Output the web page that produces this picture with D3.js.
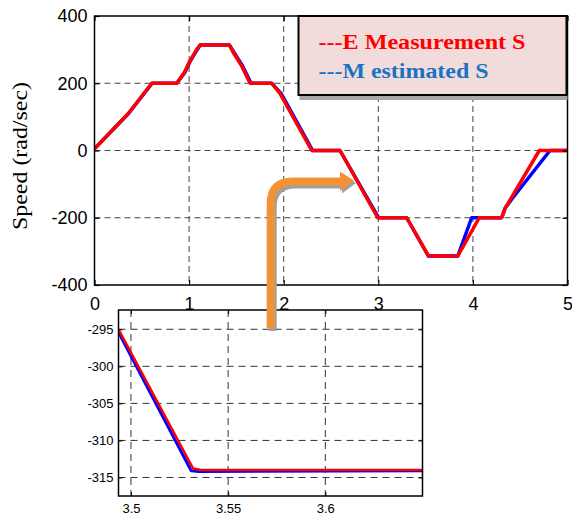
<!DOCTYPE html>
<html>
<head>
<meta charset="utf-8">
<script src="https://cdn.jsdelivr.net/npm/d3@7/dist/d3.min.js"></script>
<style>
  html, body { margin: 0; padding: 0; background: #ffffff; }
  svg { display: block; }
</style>
</head>
<body>
<svg id="chart" width="572" height="517"></svg>
<script>
// ---------- data ----------
const timeMeasured = [0, 0.357, 0.605, 0.87, 0.95, 1.0, 1.08, 1.115, 1.425, 1.47, 1.55, 1.645, 1.873, 1.96, 2.296, 2.595, 2.994, 3.30, 3.532, 3.84, 4.067, 4.304, 4.34, 4.702, 5.0];
const speedMeasured = [5, 110, 200, 200, 232, 262, 300, 314, 314, 290, 254, 200, 200, 170, 0, 0, -200, -200, -314, -314, -200, -200, -172, 0, 0];
const timeEstimated = [0, 0.36, 0.61, 0.87, 0.955, 1.005, 1.085, 1.12, 1.425, 1.478, 1.56, 1.655, 1.873, 1.972, 2.306, 2.595, 3.004, 3.30, 3.53, 3.84, 3.987, 4.304, 4.34, 4.41, 4.815, 5.0];
const speedEstimated = [5, 110, 200, 200, 232, 262, 300, 314, 314, 290, 254, 200, 200, 170, 0, 0, -200, -200, -314, -314, -200, -200, -172, -145, 0, 0];

const xTicks = [0, 1, 2, 3, 4, 5];
const yTicks = [-400, -200, 0, 200, 400];

// zoomed inset
const insetTimeMeasured = [3.4936, 3.532, 3.536, 3.65];
const insetSpeedMeasured = [-295, -313.8, -314, -314];
const insetTimeEstimated = [3.4936, 3.531, 3.535, 3.65];
const insetSpeedEstimated = [-295.4, -314.1, -314.2, -314.1];
const insetXTicks = [3.5, 3.55, 3.6];
const insetYTicks = [-295, -300, -305, -310, -315];

const legendLabels = ["---E Measurement S", "---M estimated S"];
const yTitle = "Speed (rad/sec)";

// ---------- drawing ----------
const svg = d3.select("#chart");
const RED = "#ff0000", BLUE = "#0000ff";
const plainNum = d => String(+d.toFixed(2));

// main plot
const M = { left: 94.5, right: 567.5, top: 16, bottom: 285 };
const x = d3.scaleLinear().domain([0, 5]).range([M.left, M.right]);
const y = d3.scaleLinear().domain([-400, 400]).range([M.bottom, M.top]);

const main = svg.append("g");
main.append("defs").append("clipPath").attr("id", "clipMain")
  .append("rect").attr("x", M.left).attr("y", M.top)
  .attr("width", M.right - M.left).attr("height", M.bottom - M.top);

// grid
main.append("g").selectAll("line").data(xTicks.slice(1, -1)).join("line")
  .attr("x1", d => x(d)).attr("x2", d => x(d)).attr("y1", M.top).attr("y2", M.bottom)
  .attr("stroke", "#444").attr("stroke-width", 1).attr("stroke-dasharray", "6,4");
main.append("g").selectAll("line").data(yTicks.slice(1, -1)).join("line")
  .attr("x1", M.left).attr("x2", M.right).attr("y1", d => y(d)).attr("y2", d => y(d))
  .attr("stroke", "#444").attr("stroke-width", 1).attr("stroke-dasharray", "6,4");

const line = d3.line().x(d => x(d[0])).y(d => y(d[1]));
main.append("path").datum(timeEstimated.map((t, i) => [t, speedEstimated[i]]))
  .attr("d", line).attr("fill", "none").attr("stroke", BLUE).attr("stroke-width", 3.5)
  .attr("stroke-linejoin", "round").attr("clip-path", "url(#clipMain)");
main.append("path").datum(timeMeasured.map((t, i) => [t, speedMeasured[i]]))
  .attr("d", line).attr("fill", "none").attr("stroke", RED).attr("stroke-width", 3.5)
  .attr("stroke-linejoin", "round").attr("clip-path", "url(#clipMain)");

// axes with inward ticks on all sides
const axB = main.append("g").attr("transform", `translate(0,${M.bottom})`)
  .call(d3.axisBottom(x).tickValues(xTicks).tickSizeInner(-5).tickSizeOuter(0).tickPadding(12).tickFormat(plainNum));
const axL = main.append("g").attr("transform", `translate(${M.left},0)`)
  .call(d3.axisLeft(y).tickValues(yTicks).tickSizeInner(-5).tickSizeOuter(0).tickPadding(7).tickFormat(plainNum));
const axT = main.append("g").attr("transform", `translate(0,${M.top})`)
  .call(d3.axisTop(x).tickValues(xTicks).tickSizeInner(-5).tickSizeOuter(0).tickFormat(""));
const axR = main.append("g").attr("transform", `translate(${M.right},0)`)
  .call(d3.axisRight(y).tickValues(yTicks).tickSizeInner(-5).tickSizeOuter(0).tickFormat(""));
[axB, axL, axT, axR].forEach(a => {
  a.select(".domain").remove();
  a.selectAll("line").attr("stroke", "#000").attr("stroke-width", 1.2);
  a.selectAll("text").attr("font-family", "'Liberation Sans', Arial, sans-serif")
    .attr("font-size", 18).attr("fill", "#000");
});
main.append("rect").attr("x", M.left).attr("y", M.top)
  .attr("width", M.right - M.left).attr("height", M.bottom - M.top)
  .attr("fill", "none").attr("stroke", "#000").attr("stroke-width", 1.5);

// y title
svg.append("text").attr("transform", `translate(27,156) rotate(-90)`)
  .attr("text-anchor", "middle").attr("font-family", "'Liberation Serif', 'Times New Roman', serif")
  .attr("font-size", 22).attr("textLength", 148).attr("lengthAdjust", "spacingAndGlyphs")
  .attr("fill", "#000").text(yTitle);

// legend
const L = { x: 298.5, y: 16, w: 268, h: 79 };
svg.append("rect").attr("x", L.x + 1).attr("y", L.y + L.h).attr("width", L.w).attr("height", 5)
  .attr("fill", "#a8a8a8");
svg.append("rect").attr("x", L.x).attr("y", L.y).attr("width", L.w).attr("height", L.h)
  .attr("fill", "#f1dcdb").attr("stroke", "#000").attr("stroke-width", 2);
const legColors = [RED, "#1a73c2"];
const legLens = [207, 170];
legendLabels.forEach((lab, i) => {
  svg.append("text").attr("x", 318.5).attr("y", 48.5 + i * 29.3)
    .attr("font-family", "'Liberation Serif', 'Times New Roman', serif")
    .attr("font-weight", "bold").attr("font-size", 20)
    .attr("textLength", legLens[i]).attr("lengthAdjust", "spacingAndGlyphs")
    .attr("fill", legColors[i]).text(lab);
});

// inset
const I = { left: 118.5, right: 422.5, top: 310, bottom: 496 };
const xi = d3.scaleLinear().domain([3.4936, 3.65]).range([I.left, I.right]);
const yi = d3.scaleLinear().domain([-317.5, -292.4]).range([I.bottom, I.top]);
const inset = svg.append("g");
inset.append("defs").append("clipPath").attr("id", "clipInset")
  .append("rect").attr("x", I.left).attr("y", I.top)
  .attr("width", I.right - I.left).attr("height", I.bottom - I.top);
inset.append("rect").attr("x", I.left).attr("y", I.top)
  .attr("width", I.right - I.left).attr("height", I.bottom - I.top).attr("fill", "#fff");
inset.append("g").selectAll("line").data(insetXTicks).join("line")
  .attr("x1", d => xi(d)).attr("x2", d => xi(d)).attr("y1", I.top).attr("y2", I.bottom)
  .attr("stroke", "#333").attr("stroke-width", 1).attr("stroke-dasharray", "7,5");
inset.append("g").selectAll("line").data(insetYTicks).join("line")
  .attr("x1", I.left).attr("x2", I.right).attr("y1", d => yi(d)).attr("y2", d => yi(d))
  .attr("stroke", "#333").attr("stroke-width", 1).attr("stroke-dasharray", "7,5");
const iline = d3.line().x(d => xi(d[0])).y(d => yi(d[1]));
inset.append("path").datum(insetTimeEstimated.map((t, i) => [t, insetSpeedEstimated[i]]))
  .attr("d", iline).attr("fill", "none").attr("stroke", BLUE).attr("stroke-width", 3)
  .attr("stroke-linejoin", "round").attr("clip-path", "url(#clipInset)");
inset.append("path").datum(insetTimeMeasured.map((t, i) => [t, insetSpeedMeasured[i]]))
  .attr("d", iline).attr("fill", "none").attr("stroke", RED).attr("stroke-width", 2.5)
  .attr("stroke-linejoin", "round").attr("clip-path", "url(#clipInset)");
const iB = inset.append("g").attr("transform", `translate(0,${I.bottom})`)
  .call(d3.axisBottom(xi).tickValues(insetXTicks).tickSizeInner(-4).tickSizeOuter(0).tickPadding(8).tickFormat(plainNum));
const iL = inset.append("g").attr("transform", `translate(${I.left},0)`)
  .call(d3.axisLeft(yi).tickValues(insetYTicks).tickSizeInner(-4).tickSizeOuter(0).tickPadding(5).tickFormat(plainNum));
const iT = inset.append("g").attr("transform", `translate(0,${I.top})`)
  .call(d3.axisTop(xi).tickValues(insetXTicks).tickSizeInner(-4).tickSizeOuter(0).tickFormat(""));
const iR = inset.append("g").attr("transform", `translate(${I.right},0)`)
  .call(d3.axisRight(yi).tickValues(insetYTicks).tickSizeInner(-4).tickSizeOuter(0).tickFormat(""));
[iB, iL, iT, iR].forEach(a => {
  a.select(".domain").remove();
  a.selectAll("line").attr("stroke", "#000").attr("stroke-width", 1);
  a.selectAll("text").attr("font-family", "'Liberation Sans', Arial, sans-serif")
    .attr("font-size", 13).attr("fill", "#000");
});
inset.append("rect").attr("x", I.left).attr("y", I.top)
  .attr("width", I.right - I.left).attr("height", I.bottom - I.top)
  .attr("fill", "none").attr("stroke", "#000").attr("stroke-width", 1.5);

// orange callout arrow
const arrowPath = d3.path();
arrowPath.moveTo(270.7, 328);
arrowPath.lineTo(270.7, 204);
arrowPath.quadraticCurveTo(270.7, 181.5, 293, 181.5);
arrowPath.lineTo(341, 181.5);
const ag = svg.append("g");
ag.append("path").attr("d", arrowPath.toString()).attr("transform", "translate(2,3)")
  .attr("fill", "none").attr("stroke", "#a0a0a0").attr("stroke-width", 8);
ag.append("polygon").attr("points", "342,174.5 356,183 342,193.5").attr("fill", "#a0a0a0");
ag.append("path").attr("d", arrowPath.toString())
  .attr("fill", "none").attr("stroke", "#f39234").attr("stroke-width", 8);
ag.append("polygon").attr("points", "340,171.5 354,180.5 340,191").attr("fill", "#f39234");
</script>
</body>
</html>
